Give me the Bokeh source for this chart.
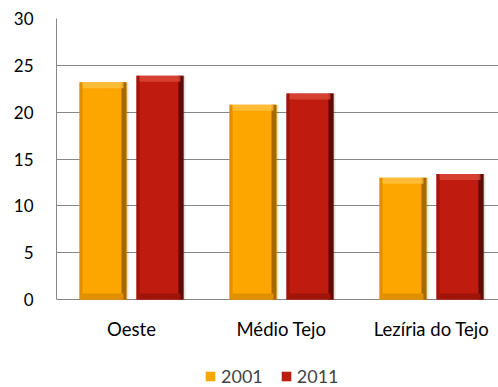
from bokeh.plotting import figure
from bokeh.models import Range1d, FixedTicker, Legend, LegendItem, ColumnDataSource
from bokeh.core.properties import value
from bokeh.embed import file_html
from bokeh.resources import INLINE

# Data
regions = ["Oeste", "Médio Tejo", "Lezíria do Tejo"]
years = ["2001", "2011"]
values_2001 = [23.2, 20.8, 13.0]
values_2011 = [23.9, 22.0, 13.4]
y_ticks = [0, 5, 10, 15, 20, 25, 30]

FONT = "Lato"
GRID = "#868686"

# colour sets per series: main, light (top bevel), dark (right edge), shade (left/bottom)
styles = {
    "2001": dict(main="#FDA600", light="#FFC64A", dark="#A86800", shade="#E08F00"),
    "2011": dict(main="#BF1B0E", light="#E0503E", dark="#5C0B05", shade="#A0140A"),
}

W, H = 498, 387
LEFT, TOP = 56, 18
CAT_PX = 150.0                 # pixel width of one category slot
x_end = (W - LEFT) / CAT_PX
px_y = 281.0 / 30.0            # pixels per y unit for the 0..30 value area
y_start = -(H - TOP - 281.0) / px_y   # space under zero for labels and legend

p = figure(width=W, height=H, output_backend="svg", toolbar_location=None,
           x_range=Range1d(0, x_end), y_range=Range1d(y_start, 30),
           x_axis_location=None,
           min_border_left=LEFT, min_border_right=0, min_border_top=TOP,
           min_border_bottom=0)
p.outline_line_color = None
p.background_fill_color = "white"
p.border_fill_color = "white"

centers = [i + 0.5 for i in range(len(regions))]
offset = 0.19
bw = 0.313
ux = 1 / CAT_PX      # one pixel in x data units
uy = 1 / px_y        # one pixel in y data units

legend_items = []
for year, vals, sgn in [("2001", values_2001, -1), ("2011", values_2011, 1)]:
    st = styles[year]
    xs = [c + sgn * offset for c in centers]
    # soft shadow on the right
    p.vbar(x=[x + 2 * ux for x in xs], top=vals, width=bw, bottom=0,
           fill_color="#000000", fill_alpha=0.12, line_color=None)
    base = p.vbar(x=xs, top=vals, width=bw, bottom=0,
                  fill_color=st["main"], line_color=None)
    # left edge shade
    p.vbar(x=[x - bw / 2 + 1.5 * ux for x in xs], top=vals, width=3 * ux,
           bottom=0, fill_color=st["shade"], line_color=None)
    # right dark edge
    p.vbar(x=[x + bw / 2 - 2.5 * ux for x in xs], top=vals, width=5 * ux,
           bottom=0, fill_color=st["dark"], line_color=None)
    # top bevel highlight
    p.vbar(x=xs, top=vals, width=bw - 6 * ux,
           bottom=[v - 6 * uy for v in vals],
           fill_color=st["light"], line_color=None, fill_alpha=0.7)
    # bottom bevel shade
    p.vbar(x=xs, top=[6 * uy] * len(vals), width=bw - 6 * ux, bottom=0,
           fill_color=st["shade"], line_color=None)
    legend_items.append(LegendItem(label=year, renderers=[base]))

# category labels under the zero line
cat_src = ColumnDataSource(dict(x=centers, y=[0] * len(regions), text=regions))
p.text(x="x", y="y", text="text", source=cat_src, y_offset=29,
       text_align="center", text_baseline="middle",
       text_font=value(FONT), text_font_size="18.5px", text_color="#000000")

# y axis, limited to the value area
p.yaxis.ticker = FixedTicker(ticks=y_ticks)
p.yaxis.bounds = (0, 30)
p.yaxis.axis_line_color = GRID
p.yaxis.major_tick_line_color = None
p.yaxis.minor_tick_line_color = None
p.yaxis.major_label_standoff = 17
p.yaxis.major_label_text_font = FONT
p.yaxis.major_label_text_font_size = "17px"
p.yaxis.major_label_text_color = "#000000"

p.xgrid.grid_line_color = None
p.ygrid.ticker = FixedTicker(ticks=y_ticks)
p.ygrid.grid_line_color = GRID

legend = Legend(items=legend_items, orientation="horizontal",
                location=(148, 0), glyph_width=12, glyph_height=12,
                label_text_font=FONT, label_text_font_size="18px",
                label_standoff=5, spacing=17, padding=0, margin=0,
                border_line_color=None, background_fill_alpha=0)
p.add_layout(legend, "center")

open("out.html", "w").write(file_html(p, INLINE))
